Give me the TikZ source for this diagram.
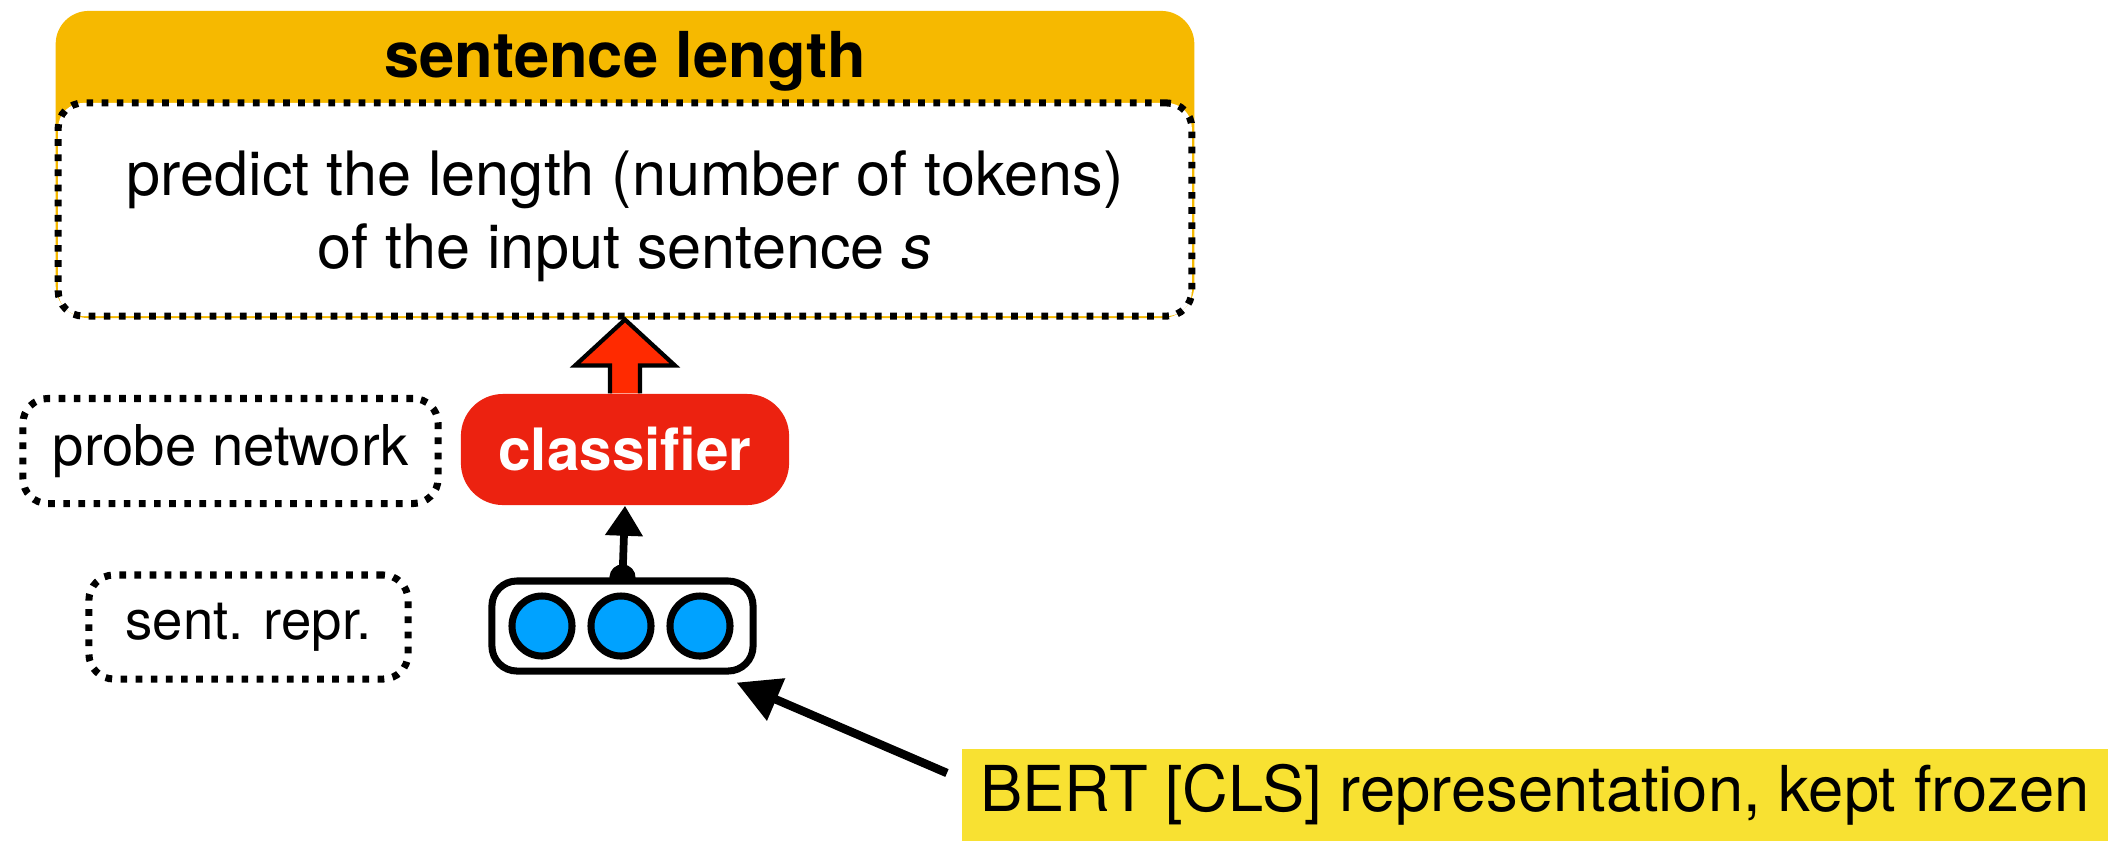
\documentclass[tikz,border=0pt]{standalone}
\usepackage{fontspec}
\setmainfont{TeX Gyre Heros}
\usepackage{tikz}
\usetikzlibrary{arrows.meta,calc,positioning,backgrounds}
\definecolor{hdrorange}{HTML}{F6B900}
\definecolor{clsred}{HTML}{EC2210}
\definecolor{arrowred}{HTML}{FF2A00}
\definecolor{unitblue}{HTML}{00A2FF}
\definecolor{bertyellow}{HTML}{F8E132}

\begin{document}
\begin{tikzpicture}[x=0.01cm, y=-0.01cm,
    dotbox/.style={draw=black, line width=2pt, dash pattern=on 1.9pt off 2.4pt,
        rounded corners=0.25cm, fill=white, inner sep=0pt},
    clsbox/.style={fill=clsred, text=white, rounded corners=0.42cm, inner sep=0pt,
        font=\fontsize{16.6}{20}\selectfont\bfseries},
    vecbox/.style={draw=black, line width=2pt, fill=white, rounded corners=0.25cm},
    unit/.style={circle, draw=black, line width=2pt, fill=unitblue, minimum size=0.6cm, inner sep=0pt},
    blockarrow/.style={draw=black, line width=1.2pt, fill=arrowred, line join=miter}]
   \useasboundingbox (0,0) rectangle (2108,841);

   % task header
   \node (lenbox) [fill=hdrorange, rounded corners=0.33cm, minimum width=11.38cm, minimum height=3.07cm] at (625,164.5) {};
   \node (title) [anchor=base, font=\fontsize{18}{21.6}\selectfont\bfseries] at (625,77) {sentence length};
   \node (task) [dotbox, minimum width=11.33cm, minimum height=2.13cm] at (625,209.5) {};
   \node (tasktext) [align=center, font=\fontsize{17.4}{20.8}\selectfont] at (625,216)
        {predict the length (number of tokens)\\ of the input sentence \textit{s}};

   % labels on the left
   \begin{scope}[every node/.style={dotbox, font=\fontsize{16}{19}\selectfont}]
    \node (probe) [minimum width=4.15cm, minimum height=1.05cm] at (230.5,451) {probe network};
    \node (sent) [minimum width=3.19cm, minimum height=1.04cm, font=\fontsize{15.5}{18}\selectfont] at (248.5,627) {sent. repr.};
   \end{scope}

   \node (cls) [clsbox, minimum width=3.28cm, minimum height=1.11cm] at (625,449.5) {classifier};

   \filldraw[blockarrow] ($(cls.north)+(-15,0)$) -- ($(task.south)+(-15,46)$) -- ($(task.south)+(-50,46)$)
        -- (task.south) -- ($(task.south)+(50,46)$) -- ($(task.south)+(15,46)$) -- ($(cls.north)+(15,0)$);

   \node (vec) [vecbox, minimum width=2.61cm, minimum height=0.9cm] at (622.5,626) {};
   \foreach \i/\x in {1/542, 2/621, 3/700}
    \node (u\i) [unit] at (\x,626) {};

   \begin{scope}[on background layer]
    \draw[line width=2.2pt, {Circle[length=0.26cm]}-{Triangle[length=0.3cm,width=0.36cm]}, shorten <=-0.13cm]
        (vec.north) -- (cls.south);
   \end{scope}

   % frozen representation
   \node (bert) [fill=bertyellow, inner sep=0pt, minimum width=11.46cm, minimum height=0.92cm,
        font=\fontsize{18}{21.6}\selectfont] at (1535,795) {BERT [CLS] representation, kept frozen};
   \coordinate (bertfrom) at ($(bert.west)+(-14,-22)$);
   \draw[line width=2.4pt, -{Triangle[length=0.43cm,width=0.44cm]}] (bertfrom) -- ($(vec.south east)+(-20,8)$);
\end{tikzpicture}
\end{document}
